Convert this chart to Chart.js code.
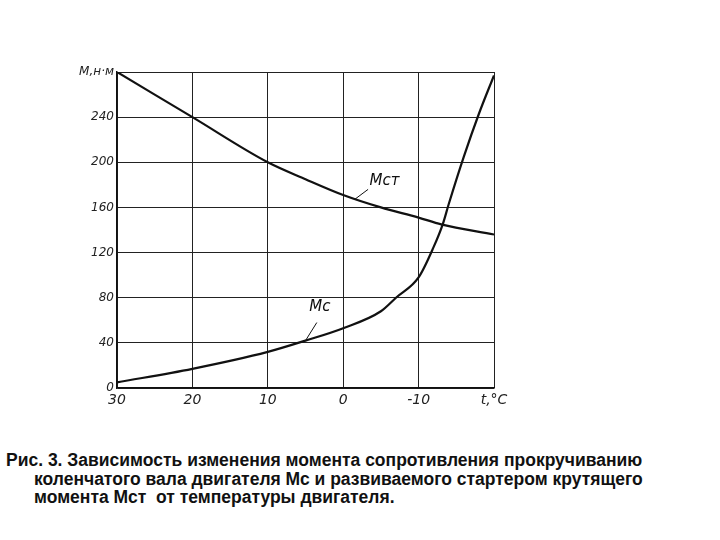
<!DOCTYPE html>
<html><head><meta charset="utf-8">
<script src="https://cdn.jsdelivr.net/npm/chart.js@4"></script>
<style>
body{margin:0;background:#fff;width:720px;height:540px;position:relative;font-family:"Liberation Sans",Arial,sans-serif}
#wrap{position:absolute;left:0;top:0;width:720px;height:420px}
#cap{position:absolute;left:6px;top:451px;font-size:17.5px;font-weight:bold;line-height:18.5px;color:#111}
#cap div{padding-left:28px}
</style></head><body>
<div id="wrap"><canvas id="c"></canvas></div>
<div id="cap">Рис. 3. Зависимость изменения момента сопротивления прокручиванию<div>коленчатого вала двигателя Мс и развиваемого стартером крутящего<br>момента Мст &nbsp;от температуры двигателя.</div></div>
<script>
// temperature, °C
const mcT = [30, 20, 10, 5, 0, -5, -7, -10, -12, -13.2, -14, -16, -18, -20];
const mcVal = [5, 17, 32, 42, 53, 68, 80, 98, 125, 145, 163, 205, 243, 277];
const mstT = [30, 25, 20, 10, 5, 0, -5, -10, -13, -20];
const mstVal = [280, 260, 240, 200, 185, 171, 160, 151, 145, 136];
const yTicks = [0, 40, 80, 120, 160, 200, 240];

const toXY = (xs, ys) => xs.map((x, i) => ({x: x, y: ys[i]}));

const curveLabels = {
    id: 'curveLabels',
    afterDatasetsDraw(chart) {
        const ctx = chart.ctx, xs = chart.scales.x, ys = chart.scales.y;
        ctx.save();
        ctx.font = 'italic 15px "DejaVu Sans"';
        ctx.fillStyle = '#111';
        ctx.strokeStyle = '#111';
        ctx.lineWidth = 1;
        const put = (t, v, lx, ly, tx, tv, txt) => {
            ctx.beginPath();
            ctx.moveTo(xs.getPixelForValue(t), ys.getPixelForValue(v));
            ctx.lineTo(xs.getPixelForValue(lx), ys.getPixelForValue(ly));
            ctx.stroke();
            ctx.fillText(txt, xs.getPixelForValue(tx), ys.getPixelForValue(tv));
        };
        put(-1.5, 167, -3.3, 176, -3.5, 180, 'Mст');
        put(5, 42, 3.5, 58, 4.5, 68, 'Mc');
        ctx.restore();
    }
};

new Chart(document.getElementById('c'), {
    type: 'line',
    data: {
        datasets: [
            {data: toXY(mstT, mstVal), borderColor: '#111', borderWidth: 2.2, pointRadius: 0, cubicInterpolationMode: 'monotone'},
            {data: toXY(mcT, mcVal), borderColor: '#111', borderWidth: 2.2, pointRadius: 0, cubicInterpolationMode: 'monotone'}
        ]
    },
    options: {
        responsive: true, maintainAspectRatio: false, animation: false,
        layout: {padding: {left: 77, right: 226, top: 72, bottom: 7}},
        plugins: {legend: {display: false}, tooltip: {enabled: false}},
        scales: {
            x: {
                type: 'linear', min: -20, max: 30, reverse: true,
                afterFit: s => { s.height = 25; },
                border: {color: '#111', width: 1.5},
                grid: {color: '#222', lineWidth: 1, drawTicks: false},
                ticks: {stepSize: 10, color: '#222', padding: 4,
                    font: {family: 'DejaVu Sans', style: 'italic', size: 14},
                    callback: v => v === -20 ? 't,°C' : v}
            },
            y: {
                min: 0, max: 280,
                afterFit: s => { s.width = 40; },
                afterBuildTicks: s => { s.ticks = yTicks.concat([280]).map(v => ({value: v})); },
                border: {color: '#111', width: 1.5},
                grid: {color: '#222', lineWidth: 1, drawTicks: false},
                ticks: {color: '#222', padding: 3,
                    font: {family: 'DejaVu Sans', style: 'italic', size: 12},
                    callback: v => v === 280 ? 'M,н·м' : v}
            }
        }
    },
    plugins: [curveLabels]
});
</script>
</body></html>
